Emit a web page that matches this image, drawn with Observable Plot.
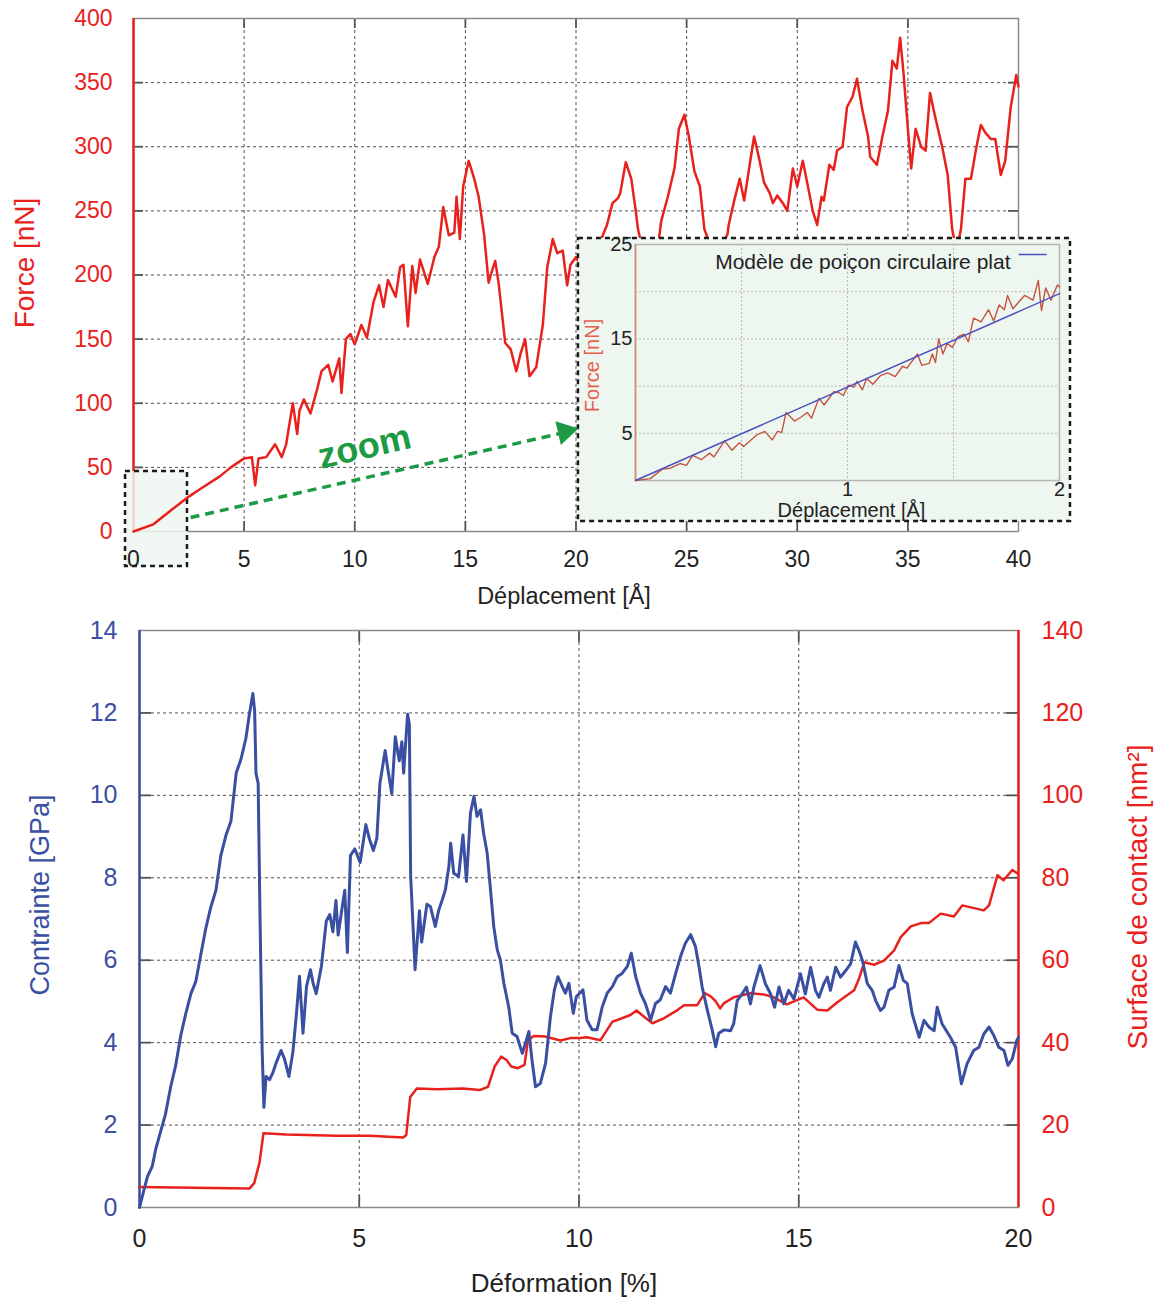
<!DOCTYPE html>
<html><head><meta charset="utf-8">
<script src="https://cdn.jsdelivr.net/npm/d3@7"></script>
<script src="https://cdn.jsdelivr.net/npm/@observablehq/plot@0.6"></script>
<style>
body{margin:0;background:#fff;font-family:"Liberation Sans",Arial,sans-serif;}
#wrap{position:relative;width:1158px;height:1300px;overflow:hidden;}
#top,#inset,#bottom{position:absolute;}
#top{left:0;top:0}
#inset{left:578px;top:238px}
#bottom{left:0;top:620px}
</style></head><body><div id="wrap"><div id="top"></div><div id="inset"></div><div id="bottom"></div></div>
<script>
// ---------- Top chart: Force vs Déplacement ----------
const dispX = [0,0.9,1.8,2.4,3.0,3.9,4.4,5.0,5.35,5.5,5.65,6.0,6.4,6.7,6.9,7.2,7.4,7.5,7.7,8.0,8.3,8.5,8.8,9.0,9.3,9.4,9.6,9.8,10.0,10.3,10.55,10.85,11.1,11.3,11.5,11.85,12.05,12.2,12.4,12.6,12.75,12.95,13.3,13.6,13.8,14.0,14.25,14.5,14.6,14.75,14.9,15.15,15.4,15.6,15.85,16.05,16.2,16.35,16.5,16.8,17.05,17.3,17.5,17.7,17.9,18.2,18.5,18.7,18.95,19.15,19.4,19.6,19.75,20.0,20.1,20.6,21.0,21.4,21.65,21.9,22.0,22.25,22.5,22.7,22.8,23.2,23.75,23.85,24.15,24.45,24.65,24.9,25.1,25.35,25.6,25.8,26.3,26.85,26.9,27.15,27.4,27.6,27.85,28.05,28.3,28.5,28.75,28.9,29.1,29.35,29.55,29.8,30.0,30.25,30.45,30.7,30.9,31.1,31.2,31.45,31.65,31.8,32.05,32.25,32.5,32.7,32.95,33.2,33.3,33.6,33.85,34.1,34.3,34.5,34.65,34.8,35.0,35.15,35.35,35.6,35.8,36.0,36.25,36.55,36.8,37.0,37.2,37.4,37.6,37.85,38.1,38.3,38.5,38.75,38.95,39.2,39.4,39.65,39.9,40.0];
const force = [0,5.6,18,26,33,43,50,57,58,36,57,58,68,58,68,100,76,94,103,92,111,125,130,117,135,108,150,154,146,161,151,179,192,175,196,183,206,208,160,207,186,212,193,214,222,253,231,233,261,228,269,289,275,261,231,194,203,211,194,147,142,125,139,150,121,128,161,206,228,217,219,192,208,214,211,204,222,239,256,260,264,288,275,250,236,205,228,242,261,283,314,325,308,281,269,236,212,232,239,258,275,258,286,308,289,272,264,256,262,256,250,283,269,289,272,250,239,261,258,286,282,297,300,331,339,353,328,308,292,286,308,328,367,361,385,358,314,283,314,300,297,342,322,300,278,236,218,236,275,275,300,317,311,306,306,278,289,331,356,347];
const topXTicks = [0,5,10,15,20,25,30,35,40];
const topYTicks = [0,50,100,150,200,250,300,350,400];

// ---------- Inset: zoom 0–2 Å ----------
const insetX = [0,0.07,0.126,0.165,0.21,0.24,0.27,0.31,0.35,0.37,0.42,0.455,0.49,0.51,0.57,0.61,0.645,0.67,0.69,0.71,0.75,0.78,0.81,0.83,0.865,0.89,0.935,0.96,0.98,1.005,1.03,1.045,1.07,1.09,1.12,1.155,1.19,1.225,1.26,1.28,1.33,1.35,1.385,1.40,1.415,1.43,1.45,1.47,1.495,1.52,1.55,1.57,1.595,1.63,1.665,1.69,1.715,1.74,1.755,1.78,1.835,1.875,1.90,1.915,1.935,1.96,1.99,2.0];
const insetF = [0,0.2,1.2,1.3,1.8,1.6,2.65,2.2,2.9,2.5,4.2,3.2,4.0,3.6,4.8,5.2,4.3,5.2,5.1,7.2,6.3,6.7,7.2,6.6,8.7,8.0,9.4,9.3,9.0,10.1,9.9,10.5,9.6,10.8,10.2,11.1,11.4,11.0,12.1,11.9,13.4,12.2,12.4,13.4,12.5,15.0,13.4,14.5,14.1,15.2,15.5,14.7,17.2,16.8,18.1,16.9,18.6,18.1,19.6,18.2,19.6,19.1,21.2,18.0,20.4,19.1,20.7,20.5];
const modelX = [0,2];
const modelF = [0,19.8];
const insetXGrid = [0.5,1,1.5];
const insetYGrid = [5,10,15,20];
const insetXTicks = [1,2];
const insetYTicks = [5,15,25];

// ---------- Bottom chart: Contrainte & Surface de contact vs Déformation ----------
const strainS = [0,0.06,0.18,0.29,0.37,0.48,0.59,0.71,0.82,0.94,1.05,1.17,1.28,1.39,1.51,1.62,1.74,1.85,1.97,2.08,2.20,2.31,2.42,2.50,2.58,2.62,2.65,2.70,2.74,2.79,2.83,2.88,2.96,3.03,3.11,3.22,3.30,3.40,3.49,3.57,3.64,3.72,3.80,3.89,3.95,4.02,4.14,4.25,4.33,4.40,4.47,4.52,4.60,4.67,4.73,4.80,4.90,5.02,5.15,5.23,5.32,5.40,5.47,5.59,5.64,5.74,5.82,5.91,5.97,6.01,6.10,6.14,6.17,6.23,6.27,6.37,6.42,6.54,6.62,6.73,6.81,6.89,6.96,7.04,7.08,7.15,7.26,7.36,7.44,7.53,7.61,7.68,7.76,7.83,7.91,7.98,8.06,8.14,8.21,8.29,8.40,8.48,8.59,8.71,8.78,8.86,8.93,9.01,9.12,9.24,9.35,9.44,9.52,9.62,9.69,9.77,9.87,9.94,10.02,10.09,10.18,10.30,10.41,10.53,10.64,10.76,10.87,10.98,11.10,11.19,11.29,11.40,11.51,11.63,11.74,11.85,11.97,12.08,12.20,12.31,12.42,12.54,12.65,12.73,12.80,12.92,13.03,13.11,13.18,13.30,13.45,13.52,13.60,13.71,13.81,13.90,13.98,14.12,14.24,14.36,14.45,14.55,14.66,14.77,14.89,15.04,15.15,15.27,15.38,15.46,15.57,15.65,15.72,15.84,15.95,16.07,16.18,16.29,16.37,16.45,16.56,16.67,16.75,16.86,16.94,17.05,17.17,17.28,17.38,17.47,17.58,17.74,17.85,17.96,18.08,18.15,18.26,18.45,18.57,18.70,18.83,18.98,19.10,19.21,19.33,19.44,19.55,19.67,19.76,19.86,19.96,20.0];
const stress = [0,0.25,0.75,1.0,1.42,1.84,2.26,2.93,3.43,4.18,4.69,5.19,5.48,6.11,6.78,7.28,7.70,8.54,9.04,9.37,10.54,10.88,11.38,11.97,12.47,12.05,10.54,10.29,7.2,3.85,2.43,3.18,3.10,3.26,3.51,3.81,3.60,3.18,3.77,4.69,5.61,4.23,5.36,5.77,5.44,5.19,5.86,6.95,7.11,6.69,7.45,6.61,7.20,7.70,6.19,8.54,8.70,8.37,9.29,8.95,8.66,8.95,10.29,11.09,10.71,10.04,11.42,10.84,11.30,10.54,11.97,11.72,8.03,6.69,5.77,7.20,6.44,7.36,7.30,6.82,7.22,7.47,7.71,8.28,8.84,8.11,8.03,9.04,7.91,9.57,9.98,9.49,9.65,9.08,8.60,7.79,6.82,6.25,6.01,5.44,4.87,4.23,4.15,3.74,3.98,4.27,3.58,2.93,3.01,3.50,4.63,5.28,5.60,5.36,5.20,5.44,4.71,5.12,5.20,5.28,4.55,4.31,4.31,4.87,5.20,5.36,5.60,5.68,5.85,6.17,5.60,5.20,4.95,4.55,4.95,5.04,5.36,5.20,5.68,6.09,6.41,6.62,6.33,5.85,5.36,4.79,4.31,3.90,4.23,4.31,4.29,4.46,5.02,5.18,5.35,4.94,5.35,5.87,5.43,5.18,4.86,5.35,4.94,5.27,5.06,5.67,5.18,5.83,5.27,5.10,5.43,5.59,5.27,5.83,5.59,5.75,5.91,6.44,6.24,5.99,5.43,5.27,5.02,4.78,4.86,5.27,5.35,5.87,5.51,5.43,4.70,4.13,4.54,4.38,4.29,4.86,4.46,4.13,3.89,3.00,3.49,3.81,3.89,4.21,4.38,4.17,3.89,3.81,3.45,3.61,4.05,4.13];
const strainA = [0,2.50,2.61,2.73,2.82,3.34,4.48,5.24,6.0,6.07,6.16,6.31,6.77,7.36,7.74,7.93,8.08,8.23,8.35,8.46,8.61,8.76,8.84,8.97,9.23,9.58,9.80,10.03,10.18,10.49,10.76,10.87,11.17,11.31,11.48,11.67,11.93,12.24,12.39,12.69,12.86,13.0,13.11,13.21,13.30,13.52,13.90,14.20,14.43,14.73,15.11,15.42,15.65,15.88,16.14,16.26,16.37,16.49,16.71,16.94,17.17,17.32,17.55,17.78,17.96,18.23,18.53,18.72,19.21,19.33,19.52,19.66,19.86,19.97];
const surface = [5.0,4.6,5.9,10.9,18.0,17.7,17.4,17.4,17.0,17.6,26.8,28.9,28.7,28.9,28.5,29.3,34.2,36.6,35.8,34.2,33.8,34.6,40.6,41.6,41.5,40.5,41.1,41.1,41.3,40.6,45.1,45.5,46.7,47.8,46.3,44.7,45.9,47.9,49.1,49.1,52.0,51.2,50.0,48.3,49.6,51.0,52.0,51.7,51.0,49.3,51.0,48.0,47.8,49.8,51.8,52.7,55.5,59.5,58.9,59.9,62.4,65.6,68.2,69.0,69.0,71.3,70.6,73.3,72.1,73.3,80.6,79.4,81.9,81.1];
const botXTicks = [0,5,10,15,20];
const stressTicks = [0,2,4,6,8,10,12,14];
const surfaceTicks = [0,20,40,60,80,100,120,140];

// ---------- Annotation geometry (data units) ----------
const zoomBox = {x1:-0.36, x2:2.44, y1:-27.3, y2:46.8};
const insetBox = {x1:20.11, x2:42.35, y1:7.8, y2:228.5};
const arrowLine = {x1:2.58, y1:10.9, x2:19.3, y2:76.5};
const arrowHead = {x:19.5, y:77.9};
const zoomLabel = {x:10.44, y:66, text:"zoom"};
const legendLine = {x1:1.807, x2:1.939, y:23.94};

const RED = "#e8211d", BLUE = "#3a4fa2", GREEN = "#1c9a44";
const FONT = '"Liberation Sans", Arial, sans-serif';
const BOXFILL = "#eef6f0";
const TICK = "#555";

const topData = dispX.map((x, i) => ({x, y: force[i]}));
const insetData = insetX.map((x, i) => ({x, y: insetF[i]}));
const modelData = modelX.map((x, i) => ({x, y: modelF[i]}));
const stressData = strainS.map((x, i) => ({x, y: stress[i]}));
const surfData = strainA.map((x, i) => ({x, y: surface[i]}));

const gridStyle = {stroke: "#333", strokeOpacity: 0.85, strokeDasharray: "3,3", strokeWidth: 1};

// inward tick marks (length in px) built from the scale ticks
function innerTicks(xt, yt, fw, fh, len) {
  const o = {stroke: TICK, strokeWidth: 1.8};
  return [
    Plot.ruleY(yt, {...o, insetRight: fw - len}),
    Plot.ruleY(yt, {...o, insetLeft: fw - len}),
    Plot.ruleX(xt, {...o, insetTop: fh - len}),
    Plot.ruleX(xt, {...o, insetBottom: fh - len})
  ];
}

const topPlot = Plot.plot({
  width: 1158, height: 620,
  marginLeft: 133, marginRight: 140, marginTop: 18, marginBottom: 89,
  style: {fontFamily: FONT, background: "transparent", overflow: "visible"},
  x: {domain: [0, 40], label: null},
  y: {domain: [0, 400], label: null},
  marks: [
    Plot.gridX(topXTicks.slice(1, -1), gridStyle),
    Plot.gridY(topYTicks.slice(1, -1), gridStyle),
    ...innerTicks(topXTicks.slice(1, -1), topYTicks.slice(1, -1), 885, 513, 10),
    Plot.frame({stroke: "#8a8a8a", strokeWidth: 1.5}),
    Plot.ruleX([0], {stroke: RED, strokeWidth: 2.5}),
    Plot.rect([zoomBox], {x1: "x1", x2: "x2", y1: "y1", y2: "y2", fill: BOXFILL, fillOpacity: 0.85, stroke: "#1a1a1a", strokeWidth: 2.5, strokeDasharray: "5,4"}),
    Plot.axisX({ticks: topXTicks, tickSize: 0, tickPadding: 19, fontSize: 23, color: "#222", label: null}),
    Plot.axisY({ticks: topYTicks, tickSize: 0, tickPadding: 21, fontSize: 23, color: RED, label: null}),
    Plot.line(topData, {x: "x", y: "y", stroke: RED, strokeWidth: 2.5}),
    Plot.rect([insetBox], {x1: "x1", x2: "x2", y1: "y1", y2: "y2", fill: BOXFILL, stroke: "#1a1a1a", strokeWidth: 2.5, strokeDasharray: "5,4"}),
    Plot.link([arrowLine], {x1: "x1", y1: "y1", x2: "x2", y2: "y2", stroke: GREEN, strokeWidth: 3.5, strokeDasharray: "9,6"}),
    Plot.dot([arrowHead], {x: "x", y: "y", symbol: "triangle", r: 9, fill: GREEN, stroke: "none", rotate: 77}),
    Plot.text([zoomLabel], {x: "x", y: "y", text: "text", rotate: -13, fill: GREEN, fontSize: 36, fontWeight: "bold"}),
    Plot.text(["Déplacement [Å]"], {frameAnchor: "bottom", textAnchor: "middle", dy: 72, dx: -12, fontSize: 23.5, fill: "#222"}),
    Plot.text(["Force [nN]"], {frameAnchor: "left", textAnchor: "middle", rotate: -90, dx: -108, dy: -12, fontSize: 28, fill: RED})
  ]
});
document.getElementById("top").append(topPlot);

const insetPlot = Plot.plot({
  width: 492, height: 283,
  marginLeft: 57, marginRight: 11, marginTop: 6, marginBottom: 41,
  style: {fontFamily: FONT, background: "transparent", overflow: "visible"},
  x: {domain: [0, 2], label: null},
  y: {domain: [0, 25], label: null},
  marks: [
    Plot.gridX(insetXGrid, {stroke: "#aaa", strokeOpacity: 0.8, strokeDasharray: "2,2"}),
    Plot.gridY(insetYGrid, {stroke: "#aaa", strokeOpacity: 0.8, strokeDasharray: "2,2"}),
    Plot.frame({stroke: "#b5b5b5", strokeWidth: 1.5}),
    Plot.ruleX([0], {stroke: "#d98371", strokeWidth: 1.5}),
    Plot.axisX({ticks: insetXTicks, tickFormat: d => String(d), tickSize: 0, tickPadding: 1, fontSize: 20, color: "#222", label: null}),
    Plot.axisY({ticks: insetYTicks, tickFormat: d => String(d), tickSize: 0, tickPadding: 3, fontSize: 20, color: "#222", label: null}),
    Plot.line(insetData, {x: "x", y: "y", stroke: "#c4543f", strokeWidth: 1.4}),
    Plot.line(modelData, {x: "x", y: "y", stroke: "#4c52bf", strokeWidth: 1.5}),
    Plot.text(["Modèle de poiçon circulaire plat"], {frameAnchor: "top-right", dx: -49, dy: 10, textAnchor: "end", fontSize: 21, fill: "#222"}),
    Plot.link([legendLine], {x1: "x1", x2: "x2", y1: "y", y2: "y", stroke: "#4c52bf", strokeWidth: 1.5}),
    Plot.text(["Déplacement [Å]"], {frameAnchor: "bottom", textAnchor: "middle", dx: 4, dy: 36, fontSize: 20, fill: "#222"}),
    Plot.text(["Force [nN]"], {frameAnchor: "left", textAnchor: "middle", rotate: -90, dx: -43, dy: 3, fontSize: 20, fill: "#e8604c"})
  ]
});
document.getElementById("inset").append(insetPlot);

const botPlot = Plot.plot({
  width: 1158, height: 680,
  marginLeft: 139, marginRight: 140, marginTop: 10, marginBottom: 93,
  style: {fontFamily: FONT, background: "transparent", overflow: "visible"},
  x: {domain: [0, 20], label: null},
  y: {domain: [0, 14], label: null},
  marks: [
    Plot.gridX([5, 10, 15], gridStyle),
    Plot.gridY(stressTicks.slice(1, -1), gridStyle),
    ...innerTicks([5, 10, 15], stressTicks.slice(1, -1), 879, 577, 12),
    Plot.frame({stroke: "#8a8a8a", strokeWidth: 1.5}),
    Plot.ruleX([0], {stroke: BLUE, strokeWidth: 2.5}),
    Plot.ruleX([20], {stroke: RED, strokeWidth: 2.5}),
    Plot.axisX({ticks: botXTicks, tickSize: 0, tickPadding: 22, fontSize: 25, color: "#222", label: null}),
    Plot.axisY({ticks: stressTicks, tickSize: 0, tickPadding: 22, fontSize: 25, color: BLUE, label: null}),
    Plot.axisY({anchor: "right", ticks: stressTicks, tickFormat: (d, i) => surfaceTicks[i], tickSize: 0, tickPadding: 23, fontSize: 25, color: RED, label: null}),
    Plot.line(surfData, {x: "x", y: d => d.y / 10, stroke: RED, strokeWidth: 2.5}),
    Plot.line(stressData, {x: "x", y: "y", stroke: BLUE, strokeWidth: 3}),
    Plot.text(["Déformation [%]"], {frameAnchor: "bottom", textAnchor: "middle", dy: 84, dx: -15, fontSize: 26, fill: "#222"}),
    Plot.text(["Contrainte [GPa]"], {frameAnchor: "left", textAnchor: "middle", rotate: -90, dx: -99, dy: -24, fontSize: 27, fill: BLUE}),
    Plot.text(["Surface de contact [nm²]"], {frameAnchor: "right", textAnchor: "middle", rotate: -90, dx: 120, dy: -22, fontSize: 28, fill: RED})
  ]
});
document.getElementById("bottom").append(botPlot);
</script>
</body></html>
